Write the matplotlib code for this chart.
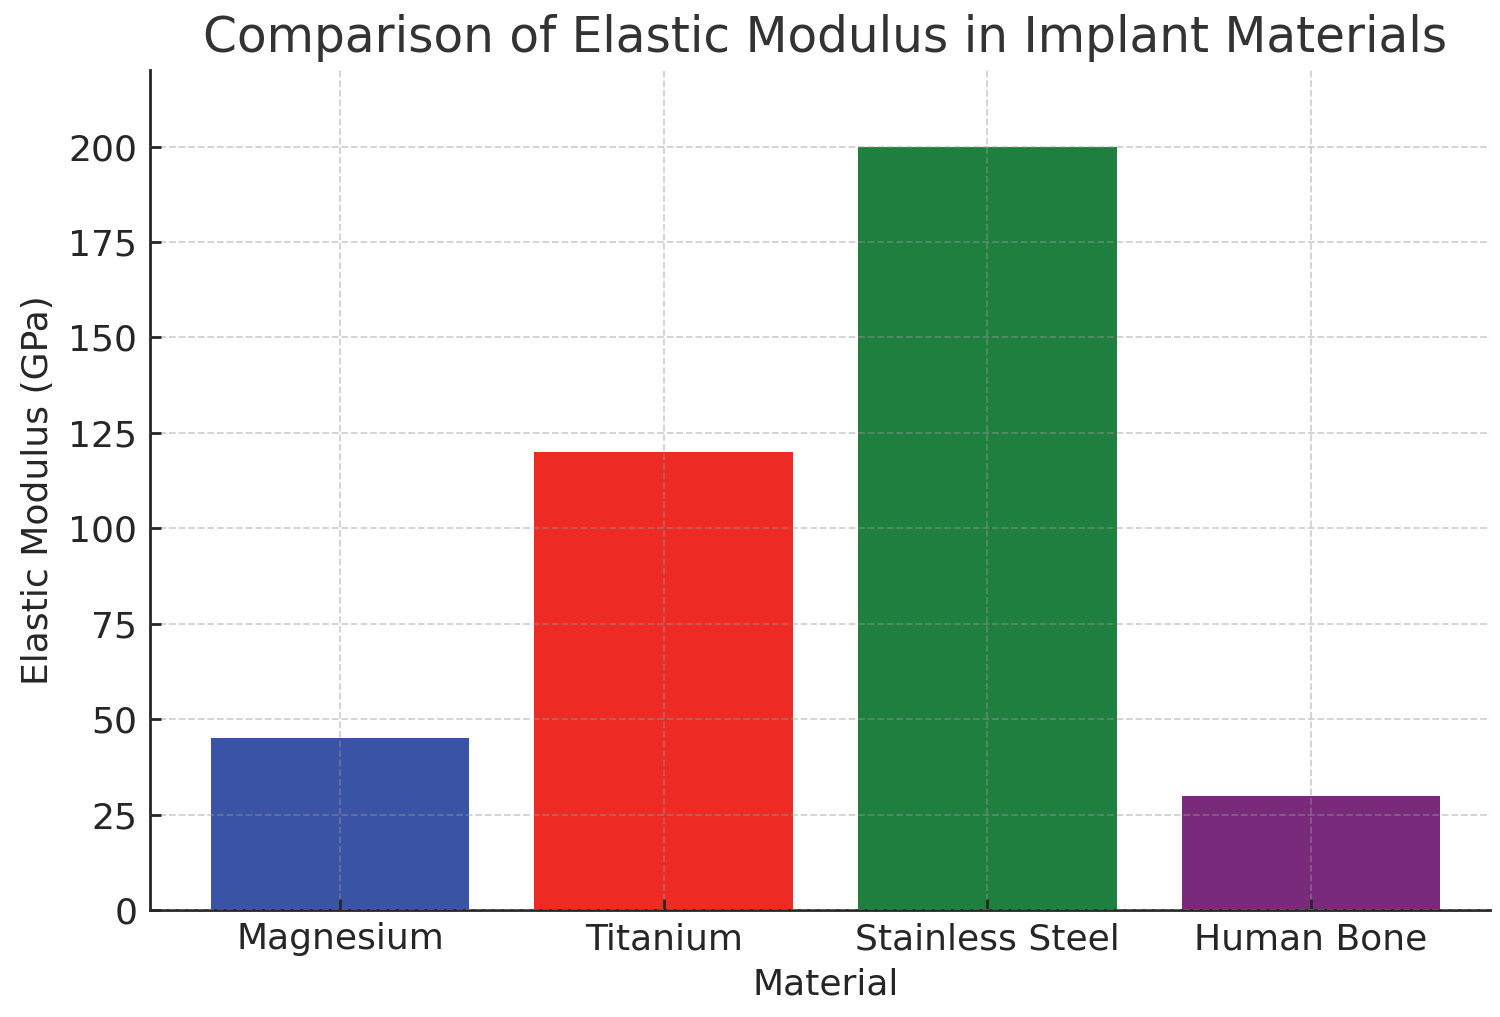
import matplotlib.pyplot as plt

materials = ["Magnesium", "Titanium", "Stainless Steel", "Human Bone"]
modulus_gpa = [45, 120, 200, 30]
bar_colors = ["#3a53a4", "#ee2a24", "#1f7f3f", "#7a2a7b"]

fig = plt.figure(figsize=(15, 10.17), dpi=100)
ax = fig.add_axes([0.1, 0.105, 0.8933, 0.826])

ax.bar(materials, modulus_gpa, color=bar_colors, width=0.8, zorder=1)
ax.set_axisbelow(False)
ax.grid(True, linestyle="--", linewidth=1.3, color="#9a9a9a", alpha=0.45)

ax.set_xlim(-0.587, 3.553)
ax.set_ylim(0, 220)
ax.set_yticks(range(0, 201, 25))

for side in ["top", "right"]:
    ax.spines[side].set_visible(False)
for side in ["left", "bottom"]:
    ax.spines[side].set_linewidth(2)
    ax.spines[side].set_color("#262626")

# ticks point into the plot area in the original
ax.tick_params(axis="both", direction="in", labelsize=26, length=8, width=2,
               color="#262626", labelcolor="#262626")
ax.tick_params(axis="x", pad=8.5)
ax.tick_params(axis="y", pad=9)

ax.set_xlabel("Material", fontsize=26, color="#262626", labelpad=8)
ax.xaxis.label.set_x(0.504)
ax.set_ylabel("Elastic Modulus (GPa)", fontsize=26, color="#262626",
              labelpad=10)
ax.set_title("Comparison of Elastic Modulus in Implant Materials",
             fontsize=35, color="#333333", pad=13, x=0.504)

fig.savefig("out.png", dpi=100)
